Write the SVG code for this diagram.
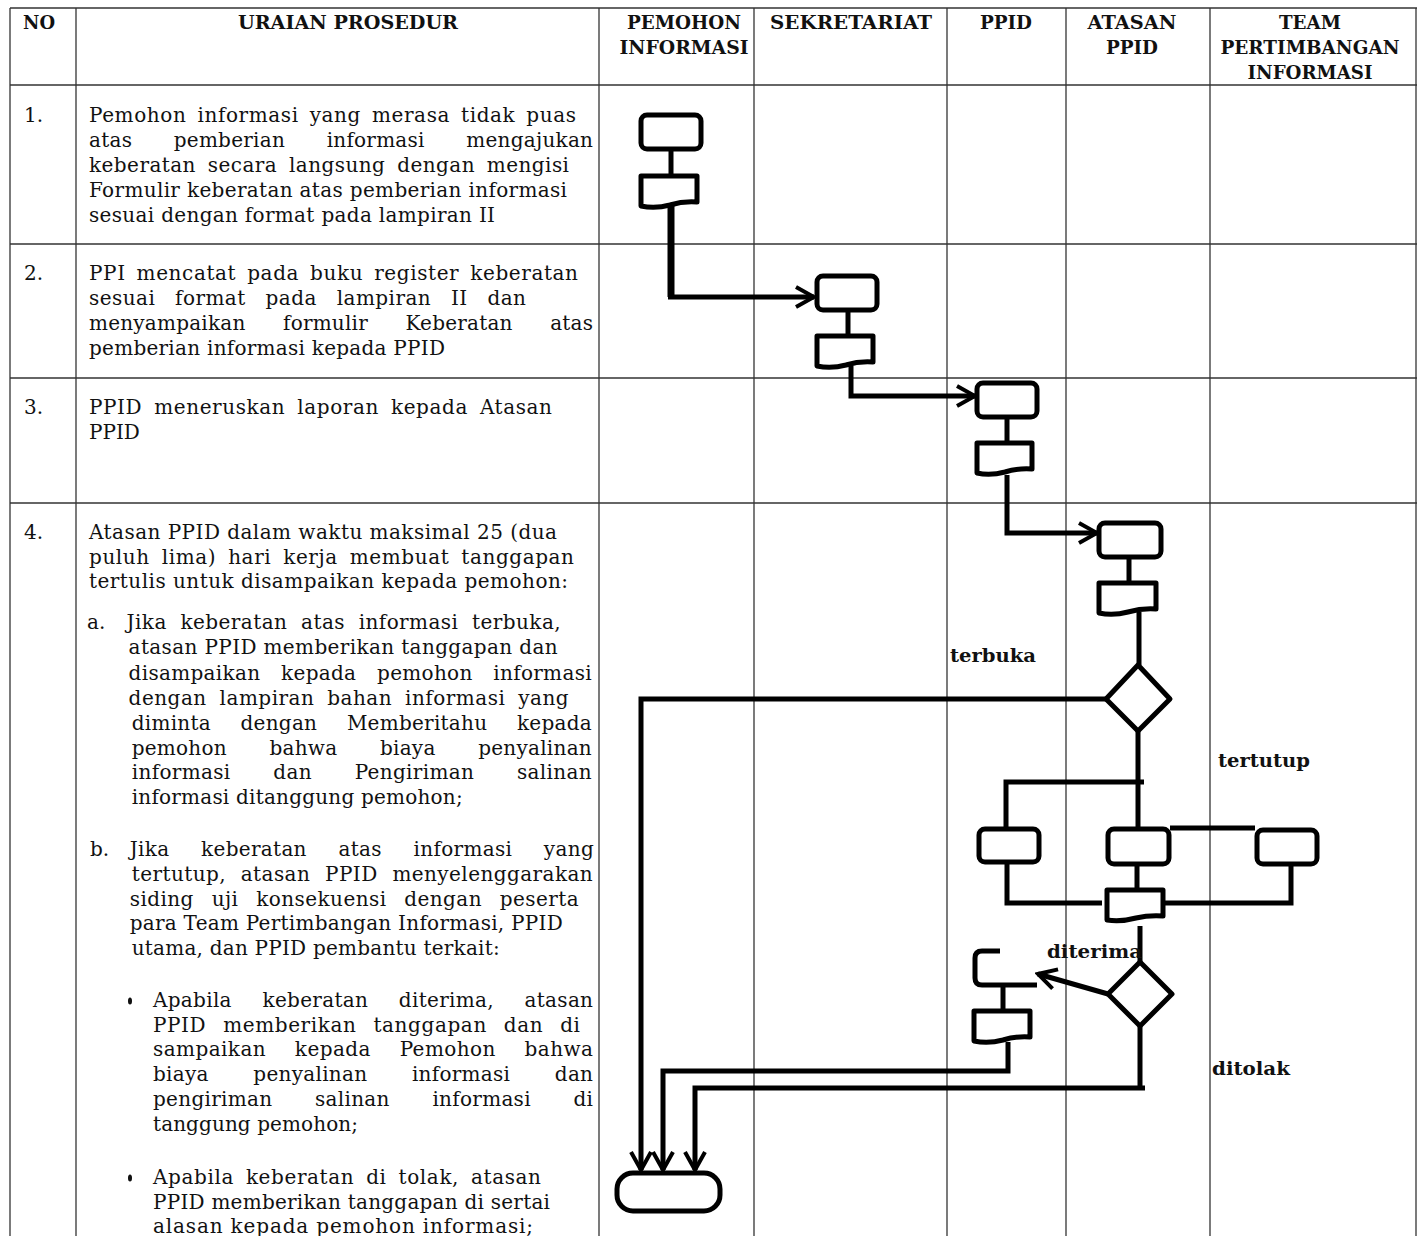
<svg xmlns="http://www.w3.org/2000/svg" width="1417" height="1236" viewBox="0 0 1417 1236">
<style>
  .hl { stroke:#666; stroke-width:2; fill:none; }
  .vl { stroke:#333; stroke-width:1.3; fill:none; }
  .hdr { font-family:"DejaVu Serif","Liberation Serif",serif; font-weight:bold; font-size:19px; fill:#111; text-anchor:middle; }
  .txt { font-family:"DejaVu Serif","Liberation Serif",serif; font-size:20px; fill:#111; }
  .lbl { font-family:"DejaVu Serif","Liberation Serif",serif; font-weight:bold; font-size:19px; fill:#111; }
  .shp { fill:#fff; stroke:#000; stroke-width:5; stroke-linejoin:round; }
  .ln { fill:none; stroke:#000; stroke-width:5; stroke-linejoin:miter; }
  .ln7 { fill:none; stroke:#000; stroke-width:7; }
</style>
<defs>
  <marker id="arr" markerUnits="userSpaceOnUse" viewBox="0 0 24 24" refX="21" refY="12" markerWidth="24" markerHeight="24" orient="auto">
    <path d="M3,2 L21,12 L3,22" fill="none" stroke="#000" stroke-width="4"/>
  </marker>
</defs>
<rect x="0" y="0" width="1417" height="1236" fill="#fff"/>

<g id="grid">
  <line class="hl" x1="10" y1="8" x2="1417" y2="8"/>
  <line class="hl" x1="10" y1="85" x2="1417" y2="85" stroke-width="2.5"/>
  <line class="hl" x1="10" y1="244" x2="1417" y2="244"/>
  <line class="hl" x1="10" y1="378" x2="1417" y2="378"/>
  <line class="hl" x1="10" y1="503" x2="1417" y2="503"/>
  <line class="vl" x1="10" y1="8" x2="10" y2="1236"/>
  <line class="vl" x1="76" y1="8" x2="76" y2="1236"/>
  <line class="vl" x1="599" y1="8" x2="599" y2="1236"/>
  <line class="vl" x1="754" y1="8" x2="754" y2="1236"/>
  <line class="vl" x1="947" y1="8" x2="947" y2="1236"/>
  <line class="vl" x1="1066" y1="8" x2="1066" y2="1236"/>
  <line class="vl" x1="1210" y1="8" x2="1210" y2="1236"/>
  <line class="vl" x1="1416" y1="8" x2="1416" y2="1236"/>
</g>

<g id="header">
  <text class="hdr" x="39" y="29" textLength="32" lengthAdjust="spacingAndGlyphs">NO</text>
  <text class="hdr" x="348" y="29" textLength="220" lengthAdjust="spacingAndGlyphs">URAIAN PROSEDUR</text>
  <text class="hdr" x="684" y="29" textLength="114" lengthAdjust="spacingAndGlyphs">PEMOHON</text>
  <text class="hdr" x="684" y="54" textLength="129" lengthAdjust="spacingAndGlyphs">INFORMASI</text>
  <text class="hdr" x="851" y="29" textLength="162" lengthAdjust="spacingAndGlyphs">SEKRETARIAT</text>
  <text class="hdr" x="1006" y="29" textLength="52" lengthAdjust="spacingAndGlyphs">PPID</text>
  <text class="hdr" x="1132" y="29" textLength="89" lengthAdjust="spacingAndGlyphs">ATASAN</text>
  <text class="hdr" x="1132" y="54" textLength="52" lengthAdjust="spacingAndGlyphs">PPID</text>
  <text class="hdr" x="1310" y="29" textLength="62" lengthAdjust="spacingAndGlyphs">TEAM</text>
  <text class="hdr" x="1310" y="54" textLength="179" lengthAdjust="spacingAndGlyphs">PERTIMBANGAN</text>
  <text class="hdr" x="1310" y="79" textLength="125" lengthAdjust="spacingAndGlyphs">INFORMASI</text>
</g>

<g id="row1-text">
  <text class="txt" x="24" y="122">1.</text>
  <text class="txt" x="89" y="122" textLength="487" lengthAdjust="spacing" word-spacing="4">Pemohon informasi yang merasa tidak puas</text>
  <text class="txt" x="89" y="147" textLength="504" lengthAdjust="spacing" word-spacing="35">atas pemberian informasi mengajukan</text>
  <text class="txt" x="89" y="172" textLength="480" lengthAdjust="spacing" word-spacing="5">keberatan secara langsung dengan mengisi</text>
  <text class="txt" x="89" y="197" textLength="478" lengthAdjust="spacing">Formulir keberatan atas pemberian informasi</text>
  <text class="txt" x="89" y="222" textLength="406" lengthAdjust="spacing">sesuai dengan format pada lampiran II</text>
</g>

<g id="row2-text">
  <text class="txt" x="24" y="280">2.</text>
  <text class="txt" x="89" y="280" textLength="489" lengthAdjust="spacing" word-spacing="4">PPI mencatat pada buku register keberatan</text>
  <text class="txt" x="89" y="305" textLength="437" lengthAdjust="spacing" word-spacing="13">sesuai format pada lampiran II dan</text>
  <text class="txt" x="89" y="330" textLength="504" lengthAdjust="spacing" word-spacing="31">menyampaikan formulir Keberatan atas</text>
  <text class="txt" x="89" y="355" textLength="356" lengthAdjust="spacing">pemberian informasi kepada PPID</text>
</g>

<g id="row3-text">
  <text class="txt" x="24" y="414">3.</text>
  <text class="txt" x="89" y="414" textLength="463" lengthAdjust="spacing" word-spacing="5">PPID meneruskan laporan kepada Atasan</text>
  <text class="txt" x="89" y="439">PPID</text>
</g>

<g id="row4-text">
  <text class="txt" x="24" y="539">4.</text>
  <text class="txt" x="89" y="539" textLength="468" lengthAdjust="spacing">Atasan PPID dalam waktu maksimal 25 (dua</text>
  <text class="txt" x="89" y="564" textLength="485" lengthAdjust="spacing" word-spacing="5">puluh lima) hari kerja membuat tanggapan</text>
  <text class="txt" x="89" y="588" textLength="479" lengthAdjust="spacing">tertulis untuk disampaikan kepada pemohon:</text>

  <text class="txt" x="87" y="629">a.</text>
  <text class="txt" x="126.6" y="629" textLength="434" lengthAdjust="spacing" word-spacing="7">Jika keberatan atas informasi terbuka,</text>
  <text class="txt" x="128.6" y="654" textLength="429" lengthAdjust="spacing">atasan PPID memberikan tanggapan dan</text>
  <text class="txt" x="128.6" y="680" textLength="463" lengthAdjust="spacing" word-spacing="14">disampaikan kepada pemohon informasi</text>
  <text class="txt" x="128.6" y="705" textLength="440" lengthAdjust="spacing" word-spacing="6">dengan lampiran bahan informasi yang</text>
  <text class="txt" x="131.7" y="730" textLength="460" lengthAdjust="spacing" word-spacing="23">diminta dengan Memberitahu kepada</text>
  <text class="txt" x="131.7" y="755" textLength="460" lengthAdjust="spacing" word-spacing="36">pemohon bahwa biaya penyalinan</text>
  <text class="txt" x="131.7" y="779" textLength="460" lengthAdjust="spacing" word-spacing="36">informasi dan Pengiriman salinan</text>
  <text class="txt" x="131.7" y="804" textLength="331" lengthAdjust="spacing">informasi ditanggung pemohon;</text>

  <text class="txt" x="90" y="856">b.</text>
  <text class="txt" x="129.7" y="856" textLength="464" lengthAdjust="spacing" word-spacing="25">Jika keberatan atas informasi yang</text>
  <text class="txt" x="131.7" y="881" textLength="461" lengthAdjust="spacing" word-spacing="8">tertutup, atasan PPID menyelenggarakan</text>
  <text class="txt" x="129.7" y="906" textLength="449" lengthAdjust="spacing" word-spacing="11">siding uji konsekuensi dengan peserta</text>
  <text class="txt" x="129.7" y="930" textLength="433" lengthAdjust="spacing">para Team Pertimbangan Informasi, PPID</text>
  <text class="txt" x="131.7" y="955" textLength="368" lengthAdjust="spacing">utama, dan PPID pembantu terkait:</text>

  <ellipse cx="130" cy="1001" rx="2" ry="3.5" fill="#111"/>
  <text class="txt" x="153" y="1007" textLength="440" lengthAdjust="spacing" word-spacing="24">Apabila keberatan diterima, atasan</text>
  <text class="txt" x="153" y="1032" textLength="427" lengthAdjust="spacing" word-spacing="10">PPID memberikan tanggapan dan di</text>
  <text class="txt" x="153" y="1056" textLength="440" lengthAdjust="spacing" word-spacing="22">sampaikan kepada Pemohon bahwa</text>
  <text class="txt" x="153" y="1081" textLength="440" lengthAdjust="spacing" word-spacing="38">biaya penyalinan informasi dan</text>
  <text class="txt" x="153" y="1106" textLength="440" lengthAdjust="spacing" word-spacing="36">pengiriman salinan informasi di</text>
  <text class="txt" x="153" y="1131" textLength="205" lengthAdjust="spacing">tanggung pemohon;</text>

  <ellipse cx="130" cy="1178" rx="2" ry="3.5" fill="#111"/>
  <text class="txt" x="153" y="1184" textLength="388" lengthAdjust="spacing" word-spacing="5">Apabila keberatan di tolak, atasan</text>
  <text class="txt" x="153" y="1209" textLength="397" lengthAdjust="spacing">PPID memberikan tanggapan di sertai</text>
  <text class="txt" x="153" y="1233" textLength="380" lengthAdjust="spacing">alasan kepada pemohon informasi;</text>
</g>

<g id="connectors">
  <line class="ln" x1="671" y1="149" x2="671" y2="176"/>
  <line class="ln" x1="848" y1="310" x2="848" y2="336"/>
  <line class="ln" x1="1007" y1="417" x2="1007" y2="443"/>
  <line class="ln" x1="1129" y1="557" x2="1129" y2="583"/>
  <path class="ln7" d="M671,206 V297"/>
  <path class="ln" d="M668,297 H814" marker-end="url(#arr)"/>
  <path class="ln" d="M851,366 V396 H975" marker-end="url(#arr)"/>
  <path class="ln" d="M1007,475 V533 H1097" marker-end="url(#arr)"/>
  <path class="ln" d="M1139,612 V665"/>
  <path class="ln" d="M1106,699 H641 V1170" marker-end="url(#arr)"/>
  <path class="ln" d="M1138,731 V829"/>
  <path class="ln" d="M1144,782 H1006 V829"/>
  <path class="ln" d="M1170,828 H1255"/>
  <path class="ln" d="M1007,862 V903 H1102"/>
  <path class="ln" d="M1291,864 V903 H1163"/>
  <line class="ln" x1="1137" y1="864" x2="1137" y2="890"/>
  <path class="ln" d="M1140,926 V962"/>
  <path class="ln" d="M1108,994 L1038,974" marker-end="url(#arr)"/>
  <line class="ln" x1="1003" y1="985" x2="1003" y2="1011"/>
  <path class="ln" d="M1008,1042 V1071 H663 V1170" marker-end="url(#arr)"/>
  <path class="ln" d="M1140,1026 V1088"/>
  <path class="ln" d="M1145,1088 H695 V1170" marker-end="url(#arr)"/>
</g>

<g id="node-pemohon-start">
  <rect class="shp" x="641" y="115" width="60" height="34" rx="6"/>
</g>
<g id="node-pemohon-doc">
  <path class="shp" d="M641,176 H697 V202 Q683,201 670,205 Q655,209 641,206 Z"/>
</g>
<g id="node-sekretariat-proc">
  <rect class="shp" x="817" y="276" width="60" height="34" rx="6"/>
</g>
<g id="node-sekretariat-doc">
  <path class="shp" d="M817,336 H873 V362 Q859,361 846,365 Q831,369 817,366 Z"/>
</g>
<g id="node-ppid-proc">
  <rect class="shp" x="977" y="383" width="60" height="34" rx="6"/>
</g>
<g id="node-ppid-doc">
  <path class="shp" d="M977,443 H1032 V469 Q1018,468 1005,472 Q990,476 977,473 Z"/>
</g>
<g id="node-atasan-proc">
  <rect class="shp" x="1099" y="523" width="62" height="34" rx="6"/>
</g>
<g id="node-atasan-doc">
  <path class="shp" d="M1099,583 H1156 V609 Q1142,608 1128,612 Q1113,616 1099,613 Z"/>
</g>
<g id="node-decision-1">
  <polygon class="shp" points="1138,665 1170,699 1138,731 1106,699"/>
</g>
<g id="node-sidang-left">
  <rect class="shp" x="979" y="829" width="60" height="33" rx="6"/>
</g>
<g id="node-sidang-mid">
  <rect class="shp" x="1108" y="829" width="61" height="35" rx="6"/>
</g>
<g id="node-sidang-right">
  <rect class="shp" x="1257" y="830" width="60" height="34" rx="6"/>
</g>
<g id="node-sidang-doc">
  <path class="shp" d="M1107,890 H1163 V916 Q1149,915 1136,918 Q1121,922 1107,920 Z"/>
</g>
<g id="node-decision-2">
  <polygon class="shp" points="1140,962 1172,994 1140,1026 1108,994"/>
</g>
<g id="node-diterima-proc">
  <path class="shp" d="M1000,951 H982 Q975,951 975,958 V978 Q975,985 982,985 H1037" style="fill:none"/>
</g>
<g id="node-diterima-doc">
  <path class="shp" d="M974,1011 H1030 V1037 Q1016,1036 1003,1040 Q988,1044 974,1041 Z"/>
</g>
<g id="node-end">
  <rect class="shp" x="617" y="1173" width="103" height="38" rx="16"/>
</g>

<g id="labels">
  <text class="lbl" x="950" y="662" textLength="86" lengthAdjust="spacingAndGlyphs">terbuka</text>
  <text class="lbl" x="1218" y="767" textLength="92" lengthAdjust="spacingAndGlyphs">tertutup</text>
  <text class="lbl" x="1047" y="958" textLength="95" lengthAdjust="spacingAndGlyphs">diterima</text>
  <text class="lbl" x="1212" y="1075" textLength="78" lengthAdjust="spacingAndGlyphs">ditolak</text>
</g>
</svg>
